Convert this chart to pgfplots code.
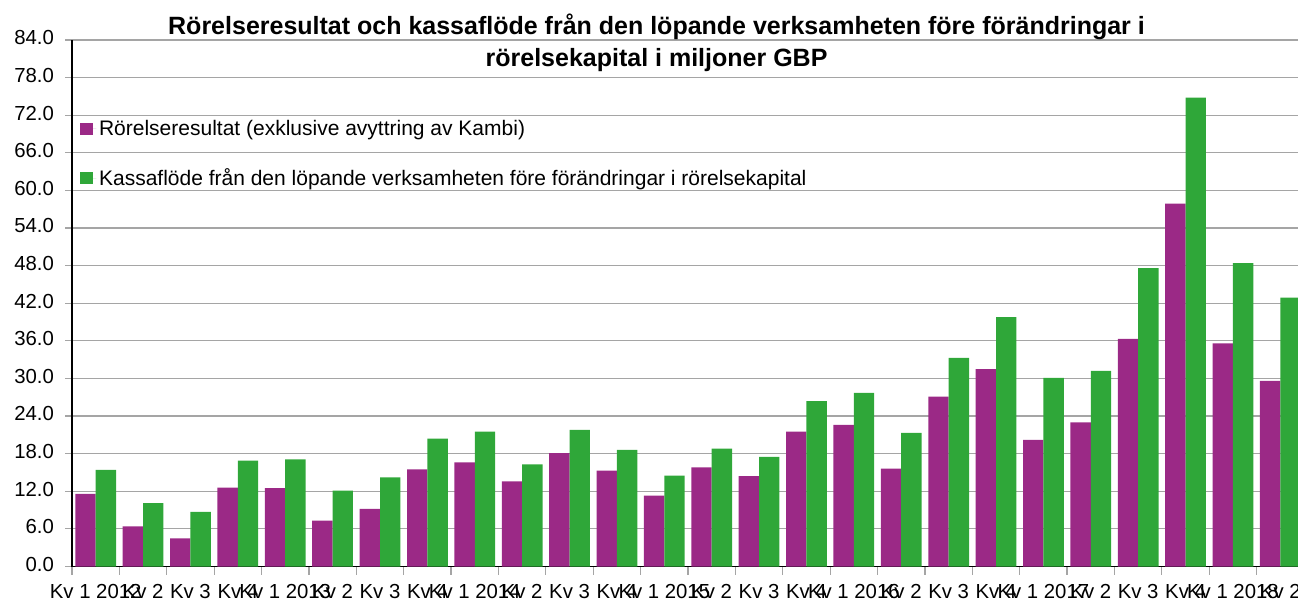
\documentclass[border=0pt]{standalone}
\usepackage{pgfplots}
\pgfplotsset{compat=1.18}
\usepackage{fontspec}
\setmainfont{Liberation Sans}
\definecolor{cpurple}{RGB}{155,41,134}
\definecolor{cgreen}{RGB}{47,167,57}
\definecolor{cgrid}{RGB}{165,165,165}
\begin{document}
\begin{tikzpicture}
\begin{axis}[
  at={(54pt,27.375pt)}, anchor=south west,
  scale only axis, width=924pt, height=394.875pt,
  ybar=0pt, bar width=0.43,
  xmin=-0.5, xmax=25.5, ymin=0, ymax=84,
  axis x line*=bottom, axis y line*=left,
  axis line style={black, line width=1pt, -},
  xtick={0,...,25},
  xticklabels={Kv 1 2012, Kv 2, Kv 3, Kv 4, Kv 1 2013, Kv 2, Kv 3, Kv 4, Kv 1 2014, Kv 2, Kv 3, Kv 4, Kv 1 2015, Kv 2, Kv 3, Kv 4, Kv 1 2016, Kv 2, Kv 3, Kv 4, Kv 1 2017, Kv 2, Kv 3, Kv 4, Kv 1 2018, Kv 2},
  minor xtick={-0.5,0.5,...,25.5},
  ytick={0,6,...,84},
  tick align=outside,
  major tick length=5pt, minor tick length=6pt,
  major x tick style={draw=none},
  minor x tick style={draw=cgrid, line width=0.9pt},
  ytick style={draw=cgrid, line width=0.9pt},
  ymajorgrids, grid style={cgrid, line width=0.9pt},
  yticklabel style={/pgf/number format/fixed, /pgf/number format/fixed zerofill, /pgf/number format/precision=1, xshift=-5pt},
  xticklabel style={yshift=-2.5pt},
  typeset ticklabels with strut,
  /pgf/number format/assume math mode=true,
  tick label style={font=\fontsize{15.25}{18}\selectfont, text=black},
  legend style={at={(0.0066,0.853)}, anchor=north west, draw=none, fill=none,
    font=\fontsize{15.75}{18}\selectfont, row sep=19.5pt, inner sep=0pt,
    nodes={inner sep=2pt}},
  legend cell align=left,
]
\addplot[fill=cpurple, draw=none,
  legend image code/.code={\fill[cpurple] (0pt,-4.6pt) rectangle (9.5pt,4.6pt); \path (0pt,0pt) -- (12pt,0pt);}]
  coordinates {(0,11.6) (1,6.4) (2,4.5) (3,12.6) (4,12.5) (5,7.3) (6,9.2) (7,15.5) (8,16.6) (9,13.6) (10,18.1) (11,15.3) (12,11.3) (13,15.8) (14,14.4) (15,21.5) (16,22.6) (17,15.6) (18,27.1) (19,31.5) (20,20.2) (21,23.0) (22,36.3) (23,57.9) (24,35.6) (25,29.6)};
\addlegendentry{Rörelseresultat (exklusive avyttring av Kambi)}
\addplot[fill=cgreen, draw=none,
  legend image code/.code={\fill[cgreen] (0pt,-4.6pt) rectangle (9.5pt,4.6pt); \path (0pt,0pt) -- (12pt,0pt);}]
  coordinates {(0,15.4) (1,10.1) (2,8.7) (3,16.9) (4,17.1) (5,12.1) (6,14.2) (7,20.4) (8,21.5) (9,16.3) (10,21.8) (11,18.6) (12,14.5) (13,18.8) (14,17.5) (15,26.4) (16,27.7) (17,21.3) (18,33.3) (19,39.8) (20,30.1) (21,31.2) (22,47.6) (23,74.8) (24,48.4) (25,42.9)};
\addlegendentry{Kassaflöde från den löpande verksamheten före förändringar i rörelsekapital}
\end{axis}
\node[anchor=base, font=\bfseries\fontsize{18.75}{22}\selectfont, inner sep=0pt] at (492.4pt,426.5pt) {Rörelseresultat och kassaflöde från den löpande verksamheten före förändringar i};
\node[anchor=base, font=\bfseries\fontsize{18.75}{22}\selectfont, inner sep=0pt] at (492.4pt,402.4pt) {rörelsekapital i miljoner GBP};
\pgfresetboundingbox
\useasboundingbox (0,0) rectangle (973.5pt,452.25pt);
\end{tikzpicture}
\end{document}
